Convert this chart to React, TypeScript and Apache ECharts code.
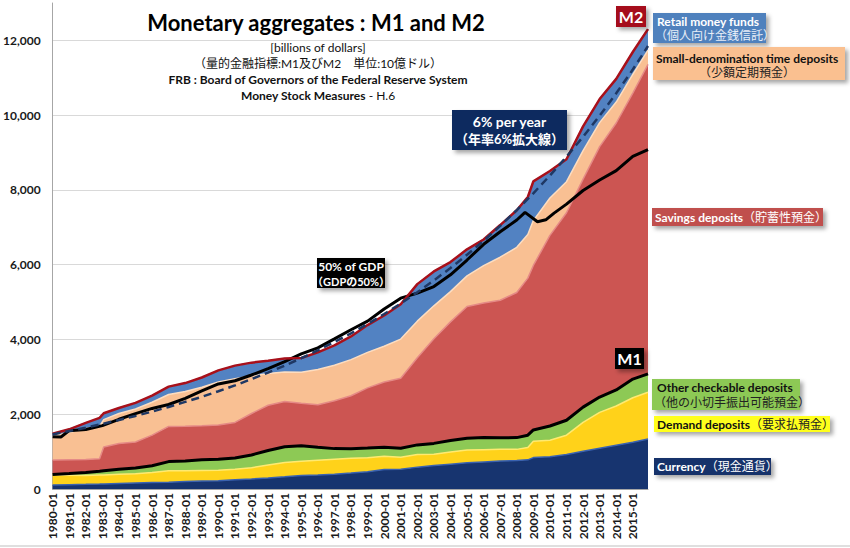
import React, { useEffect, useRef } from 'react';
import * as echarts from 'echarts';

// ---- Data (billions of dollars) ----
const dates = [
  '1980-01', '1981-01', '1982-01', '1982-11', '1983-02', '1984-01', '1985-01', '1986-01', '1987-01', '1988-01',
  '1989-01', '1990-01', '1991-01', '1992-01', '1993-01', '1994-01', '1995-01', '1996-01', '1997-01', '1998-01',
  '1999-01', '2000-01', '2001-01', '2002-01', '2003-01', '2004-01', '2005-01', '2006-01', '2007-01', '2008-01',
  '2008-09', '2009-01', '2010-01', '2011-01', '2012-01', '2013-01', '2014-01', '2015-01', '2015-12',
];
const currency = [
  106, 117, 124, 132, 136, 148, 159, 171, 183, 198, 213, 223, 250, 270, 295, 325, 360, 375, 395, 425,
  460, 520, 530, 585, 630, 665, 700, 725, 750, 760, 780, 840, 865, 920, 1010, 1090, 1170, 1250, 1340,
];
const demandDeposits = [
  262, 250, 235, 240, 240, 245, 250, 270, 305, 290, 285, 280, 280, 300, 345, 385, 385, 395, 400, 395,
  375, 355, 320, 335, 300, 325, 340, 325, 310, 300, 330, 440, 440, 520, 770, 960, 1050, 1190, 1250,
];
const otherCheckable = [
  20, 45, 84, 100, 110, 135, 150, 180, 245, 260, 285, 290, 300, 340, 390, 420, 410, 345, 285, 255,
  260, 245, 240, 260, 290, 310, 320, 325, 310, 315, 330, 300, 380, 400, 410, 410, 430, 500, 490,
];
const savingsDeposits = [
  385, 370, 345, 340, 640, 690, 700, 820, 940, 930, 910, 920, 950, 1110, 1210, 1210, 1140, 1140, 1280, 1420,
  1610, 1740, 1870, 2330, 2800, 3170, 3520, 3600, 3680, 3880, 4200, 4400, 5100, 5550, 6100, 6700, 7140, 7650, 8280,
];
const smallTimeDeposits = [
  640, 730, 830, 860, 730, 800, 880, 880, 855, 930, 1030, 1150, 1170, 1000, 850, 790, 830, 940, 950, 965,
  950, 960, 1050, 980, 880, 810, 820, 1000, 1150, 1210, 1170, 1200, 1000, 830, 760, 640, 560, 500, 380,
];
const retailMoneyFunds = [
  65, 85, 150, 230, 170, 150, 165, 175, 210, 225, 260, 310, 350, 360, 340, 360, 380, 460, 530, 620,
  730, 820, 930, 990, 920, 790, 710, 700, 860, 990, 1000, 1050, 720, 600, 650, 630, 620, 600, 560,
];

const gdpDates = [
  '1980-01', '1980-07', '1981-01', '1982-01', '1983-01', '1984-01', '1985-01', '1986-01', '1987-01', '1988-01',
  '1989-01', '1990-01', '1991-01', '1992-01', '1993-01', '1994-01', '1995-01', '1996-01', '1997-01', '1998-01',
  '1999-01', '2000-01', '2001-01', '2002-01', '2003-01', '2004-01', '2005-01', '2006-01', '2007-01', '2008-01',
  '2008-07', '2009-04', '2009-10', '2010-04', '2011-01', '2012-01', '2013-01', '2014-01', '2015-01', '2015-12',
];
const gdpHalf = [
  1400, 1390, 1560, 1590, 1695, 1865, 2015, 2155, 2260, 2425, 2625, 2810, 2895, 3050, 3220, 3405, 3615, 3775, 4015, 4260,
  4490, 4815, 5105, 5240, 5415, 5730, 6125, 6545, 6880, 7195, 7400, 7150, 7200, 7380, 7620, 7985, 8265, 8515, 8895, 9080,
];

const trendDates = [
  '1980-01', '1981-01', '1982-01', '1983-01', '1984-01', '1985-01', '1986-01', '1987-01', '1988-01', '1989-01',
  '1990-01', '1991-01', '1992-01', '1993-01', '1994-01', '1995-01', '1996-01', '1997-01', '1998-01', '1999-01',
  '2000-01', '2001-01', '2002-01', '2003-01', '2004-01', '2005-01', '2006-01', '2007-01', '2008-01', '2009-01',
  '2010-01', '2011-01', '2012-01', '2013-01', '2014-01', '2015-01', '2015-12',
];
const trend6 = [
  1460, 1550, 1640, 1740, 1845, 1955, 2070, 2195, 2330, 2465, 2615, 2770, 2940, 3115, 3300, 3500, 3710, 3930, 4165, 4415,
  4680, 4960, 5260, 5580, 5910, 6265, 6640, 7040, 7460, 7910, 8385, 8890, 9420, 9985, 10585, 11220, 11850,
];

const firstYear = 1980;
const lastYear = 2015;
const months: string[] = [];
for (let y = firstYear; y <= lastYear; y++) {
  for (let m = 1; m <= 12; m++) months.push(`${y}-${m < 10 ? '0' + m : m}`);
}

const FF = 'Lato, "Noto Sans CJK JP", sans-serif';
const pairs = (ds: string[], vs: number[]) => ds.map((d, i) => [d, vs[i]]);
const m1 = dates.map((_, i) => currency[i] + demandDeposits[i] + otherCheckable[i]);
const m2 = dates.map((_, i) => m1[i] + savingsDeposits[i] + smallTimeDeposits[i] + retailMoneyFunds[i]);

function area(name: string, vals: number[], fill: string, edge: string) {
  return {
    name,
    type: 'line',
    stack: 'money',
    data: pairs(dates, vals),
    symbol: 'none',
    showSymbol: false,
    lineStyle: { color: edge, width: 1.5 },
    areaStyle: { color: fill, opacity: 1 },
    z: 2,
  };
}

function line(name: string, ds: string[], vals: number[], color: string, width: number, type: any = 'solid', z = 5) {
  return {
    name,
    type: 'line',
    data: pairs(ds, vals),
    symbol: 'none',
    showSymbol: false,
    lineStyle: { color, width, type },
    z,
  };
}

const shadow = { shadowBlur: 4, shadowOffsetX: 3, shadowOffsetY: 3, shadowColor: 'rgba(0,0,0,0.35)' };

function rect(x: number, y: number, w: number, h: number, fill: string) {
  return { type: 'rect', z: 100, shape: { x, y, width: w, height: h }, style: { fill, ...shadow } };
}
function text(x: number, y: number, t: string, font: string, fill: string, align = 'left', rich?: any) {
  return {
    type: 'text',
    z: 101,
    x,
    y,
    style: {
      text: t,
      font,
      fill,
      align,
      textAlign: align,
      verticalAlign: 'middle',
      textVerticalAlign: 'middle',
      rich,
    },
  };
}

const option: any = {
  animation: false,
  backgroundColor: '#fff',
  grid: { left: 50, right: 202, top: 3, bottom: 59, containLabel: false },
  xAxis: {
    type: 'category',
    data: months,
    boundaryGap: false,
    axisLine: { lineStyle: { color: '#A6A6A6' } },
    axisTick: { show: false },
    axisLabel: {
      interval: 11,
      rotate: 90,
      margin: 4,
      color: '#1a1a1a',
      fontWeight: 'bold',
      fontSize: 12,
      fontFamily: FF,
    },
    splitLine: { show: false },
  },
  yAxis: {
    type: 'value',
    min: 0,
    max: 13000,
    interval: 2000,
    axisLine: { show: true, lineStyle: { color: '#A6A6A6' } },
    axisTick: { show: false },
    axisLabel: {
      showMaxLabel: false,
      margin: 12,
      color: '#1a1a1a',
      fontWeight: 'bold',
      fontSize: 12,
      fontFamily: FF,
      formatter: (v: number) => (v === 13000 ? '' : v.toLocaleString('en-US')),
    },
    splitLine: { show: true, showMaxLine: false, lineStyle: { color: '#D9D9D9' } },
  },
  series: [
    area('Currency', currency, '#17346F', '#3A62B0'),
    area('Demand deposits', demandDeposits, '#FFD21A', '#FFEA70'),
    area('Other checkable deposits', otherCheckable, '#8DC955', '#B5E08A'),
    area('Savings deposits', savingsDeposits, '#CC5552', '#E58A86'),
    area('Small-denomination time deposits', smallTimeDeposits, '#F9C093', '#FDDDC0'),
    area('Retail money funds', retailMoneyFunds, '#5282C2', '#86AADC'),
    line('M1', dates, m1, '#000000', 3),
    line('50% of GDP', gdpDates, gdpHalf, '#000000', 3),
    line('M2', dates, m2, '#A8101A', 2.5, 'solid', 6),
    line('6% per year', trendDates, trend6, '#1F3864', 2.5, [8, 5], 7),
  ],
  graphic: [
    text(316, 22, 'Monetary aggregates : M1 and M2', `bold 22px ${FF}`, '#000', 'center'),
    text(318, 47, '[billions of dollars]', `12px ${FF}`, '#111', 'center'),
    text(318, 63, '（量的金融指標:M1及びM2　単位:10億ドル）', `12px ${FF}`, '#111', 'center'),
    text(318, 79, 'FRB : Board of Governors of the Federal Reserve System', `bold 12px ${FF}`, '#111', 'center'),
    text(318, 95, '{b|Money Stock Measures}{n| - H.6}', `bold 12px ${FF}`, '#111', 'center', {
      b: { font: `bold 12px ${FF}`, fill: '#111' },
      n: { font: `12px ${FF}`, fill: '#111' },
    }),

    // M2 / M1 tags
    rect(616, 6, 30, 21, '#A50F1E'),
    text(631, 16.5, 'M2', `bold 16px ${FF}`, '#fff', 'center'),
    rect(615, 348, 29, 21, '#000'),
    text(629.5, 358.5, 'M1', `bold 16px ${FF}`, '#fff', 'center'),

    // 50% of GDP
    rect(317, 258, 68, 30, '#000'),
    text(351, 266.5, '50% of GDP', `bold 12px ${FF}`, '#fff', 'center'),
    text(351, 281, '（GDPの50%）', `bold 11px ${FF}`, '#fff', 'center'),

    // 6% per year
    rect(452, 110, 115, 40, '#10295E'),
    text(509.5, 121.5, '6% per year', `bold 14px ${FF}`, '#fff', 'center'),
    text(509.5, 139, '（年率6%拡大線）', `bold 13px ${FF}`, '#fff', 'center'),

    // Right-side labels
    rect(653, 13, 113, 30, '#4F81BD'),
    text(657, 21, 'Retail money funds', `bold 12px ${FF}`, '#fff'),
    text(655, 35, '（個人向け金銭信託）', `12px ${FF}`, '#E8EEF8'),

    rect(653, 47, 192, 33, '#FAC090'),
    text(656, 58.5, 'Small-denomination time deposits', `bold 12px ${FF}`, '#111'),
    text(747, 72, '（少額定期預金）', `12px ${FF}`, '#222', 'center'),

    rect(652, 208, 171, 18, '#C0504D'),
    text(655, 217, '{b|Savings deposits}{n|（貯蓄性預金）}', `bold 12px ${FF}`, '#fff', 'left', {
      b: { font: `bold 12px ${FF}`, fill: '#fff' },
      n: { font: `12px ${FF}`, fill: '#fff' },
    }),

    rect(652, 379, 148, 31, '#8DC955'),
    text(657, 387.5, 'Other checkable deposits', `bold 12px ${FF}`, '#111'),
    text(654, 402.5, '（他の小切手振出可能預金）', `12px ${FF}`, '#222'),

    rect(654, 416, 176, 16, '#FFFF1A'),
    text(657, 424, '{b|Demand deposits}{n|（要求払預金）}', `bold 12px ${FF}`, '#111', 'left', {
      b: { font: `bold 12px ${FF}`, fill: '#111' },
      n: { font: `12px ${FF}`, fill: '#222' },
    }),

    rect(654, 458, 117, 17, '#17306B'),
    text(657, 466.5, '{b|Currency}{n|（現金通貨）}', `bold 12px ${FF}`, '#fff', 'left', {
      b: { font: `bold 12px ${FF}`, fill: '#fff' },
      n: { font: `12px ${FF}`, fill: '#fff' },
    }),

    { type: 'line', z: 0, shape: { x1: 0, y1: 546, x2: 850, y2: 546 }, style: { stroke: '#BFBFBF', lineWidth: 1 } },
  ],
};

export default function App() {
  const ref = useRef<HTMLDivElement>(null);
  useEffect(() => {
    document.body.style.margin = '0';
    const chart = echarts.init(ref.current!, null, { renderer: 'svg' });
    chart.setOption(option);
    return () => chart.dispose();
  }, []);
  return <div ref={ref} style={{ position: 'absolute', left: 0, top: 0, width: 850, height: 548 }} />;
}
